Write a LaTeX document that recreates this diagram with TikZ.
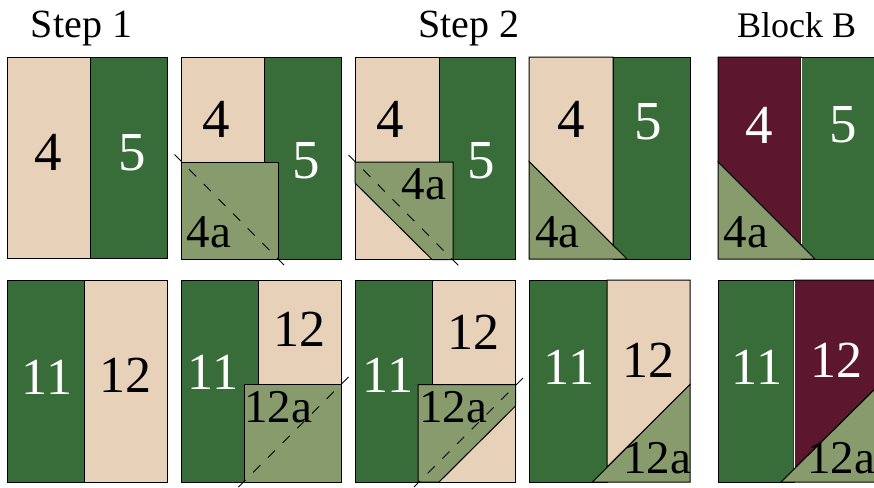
\documentclass[tikz,border=0pt]{standalone}
\usepackage{fontspec}
\setmainfont{Liberation Serif}
\usepackage{xcolor}
\definecolor{patchTanCol}{HTML}{E7D2B9}
\definecolor{patchGreenCol}{HTML}{386C38}
\definecolor{patchSageCol}{HTML}{879B6C}
\definecolor{patchWineCol}{HTML}{5C172F}
\tikzset{
  patchTan/.style={draw=black, fill=patchTanCol, line width=1pt, line join=miter},
  patchGreen/.style={draw=black, fill=patchGreenCol, line width=1pt, line join=miter},
  patchSage/.style={draw=black, fill=patchSageCol, line width=1pt, line join=miter},
  patchWine/.style={draw=black, fill=patchWineCol, line width=1pt, line join=miter},
  seamDash/.style={draw=black, line width=0.9pt, dash pattern=on 10pt off 10.8pt},
  numDark/.style={text=black, inner sep=0pt, font=\fontsize{55}{60}\selectfont},
  numLight/.style={text=white, inner sep=0pt, font=\fontsize{55}{60}\selectfont},
  pairDark/.style={text=black, inner sep=0pt, font=\fontsize{52}{56}\selectfont},
  pairLight/.style={text=white, inner sep=0pt, font=\fontsize{52}{56}\selectfont},
  cornerLab/.style={text=black, inner sep=0pt, font=\fontsize{47}{50}\selectfont},
  stepTitle/.style={text=black, inner sep=0pt, font=\fontsize{40}{44}\selectfont},
}
\begin{document}
\begin{tikzpicture}[x=1pt, y=-1pt]
\clip (0,0) rectangle (874,487);

% Titles
\node (titleA) [stepTitle] at (81.5,29) {Step 1};
\node (titleB) [stepTitle] at (469,29) {Step 2};
\node (titleC) [stepTitle, font=\fontsize{36}{40}\selectfont] at (796.5,25) {Block B};

% Top row
\draw [patchTan] (7,57) rectangle (90.5,258.5);
\draw [patchGreen] (90.5,57) rectangle (167.5,258.5);
\node (a1four) [numDark] at (48,152) {4};
\node (a1five) [numLight] at (132,153) {5};

\draw [patchTan] (181,57.5) rectangle (264.5,162);
\draw [patchGreen] (264.5,57.5) rectangle (341.5,259.5);
\draw [patchSage] (181,162) rectangle (278.5,259.5);
\node (a2four) [numDark] at (216,119) {4};
\node (a2five) [numLight] at (306,161) {5};
\node (a2corner) [cornerLab] at (209,232) {4a};
\draw [seamDash] (174.5,154.5) -- (285,266);

\draw [patchTan] (355,57.5) rectangle (439,259.5);
\draw [patchGreen] (439,57.5) rectangle (515.5,259.5);
\draw [patchSage] (355,162) -- (453,162) -- (453,259.5) -- (432,259.5) -- (355,183) -- cycle;
\node (a3four) [numDark] at (390,119) {4};
\node (a3five) [numLight] at (481,161) {5};
\node (a3corner) [cornerLab] at (424,184) {4a};
\draw [seamDash] (348.5,155) -- (459,266);

\draw [patchGreen] (613,57) rectangle (690,259);
\draw [patchTan] (529,57) -- (613,57) -- (613,245.5) -- (529,161.5) -- cycle;
\draw [patchSage] (529,161.5) -- (627,259) -- (529,259) -- cycle;
\node (a4four) [numDark] at (571,119) {4};
\node (a4five) [numLight] at (648,122) {5};
\node (a4corner) [cornerLab] at (557.5,232) {4a};

\draw [patchGreen] (801,57) rectangle (880,259);
\draw [patchWine] (718,57) -- (801,57) -- (801,245) -- (718,162) -- cycle;
\draw [white, line width=1pt] (801,57.5) -- (801,244);
\draw [patchSage] (718,162) -- (815,259) -- (718,259) -- cycle;
\node (a5four) [numLight] at (759,125) {4};
\node (a5five) [numLight] at (843,125) {5};
\node (a5corner) [cornerLab] at (746,232) {4a};

% Bottom row
\draw [patchGreen] (7,280) rectangle (84,482);
\draw [patchTan] (84,280) rectangle (167.5,482);
\node (b1eleven) [pairLight] at (47,377) {11};
\node (b1twelve) [pairDark] at (125,375) {12};

\draw [patchGreen] (181,280) rectangle (258,482);
\draw [patchTan] (258,280) rectangle (341.5,384.5);
\draw [patchSage] (244,384.5) rectangle (341.5,482);
\node (b2eleven) [pairLight] at (213,372) {11};
\node (b2twelve) [pairDark] at (299,329) {12};
\node (b2corner) [cornerLab] at (278,407) {12a};
\draw [seamDash] (348.5,377) -- (238.5,487);

\draw [patchGreen] (355,280) rectangle (432,482);
\draw [patchTan] (432,280) rectangle (515.5,482);
\draw [patchSage] (418,384.5) -- (515.5,384.5) -- (515.5,406) -- (439,482) -- (418,482) -- cycle;
\node (b3eleven) [pairLight] at (388,375) {11};
\node (b3twelve) [pairDark] at (473,332) {12};
\node (b3corner) [cornerLab] at (453,407) {12a};
\draw [seamDash] (523,378) -- (414,487);

\draw [patchGreen] (529,280) rectangle (607,482);
\draw [patchTan] (607,280) -- (690,280) -- (690,384.5) -- (607,467) -- cycle;
\draw [patchSage] (690,384.5) -- (690,482) -- (592.5,482) -- cycle;
\node (b4eleven) [pairLight] at (569,367) {11};
\node (b4twelve) [pairDark] at (648,360) {12};
\node (b4corner) [cornerLab] at (657,458) {12a};

\draw [patchGreen] (718,280) rectangle (794,482);
\draw [patchWine] (794,280) -- (880,280) -- (880,384) -- (794,469) -- cycle;
\draw [white, line width=1pt] (794,280.5) -- (794,468);
\draw [patchSage] (880,384) -- (880,482) -- (781,482) -- cycle;
\node (b5eleven) [pairLight] at (757,367) {11};
\node (b5twelve) [pairLight] at (836,360) {12};
\node (b5corner) [cornerLab] at (841,458) {12a};
\end{tikzpicture}
\end{document}
